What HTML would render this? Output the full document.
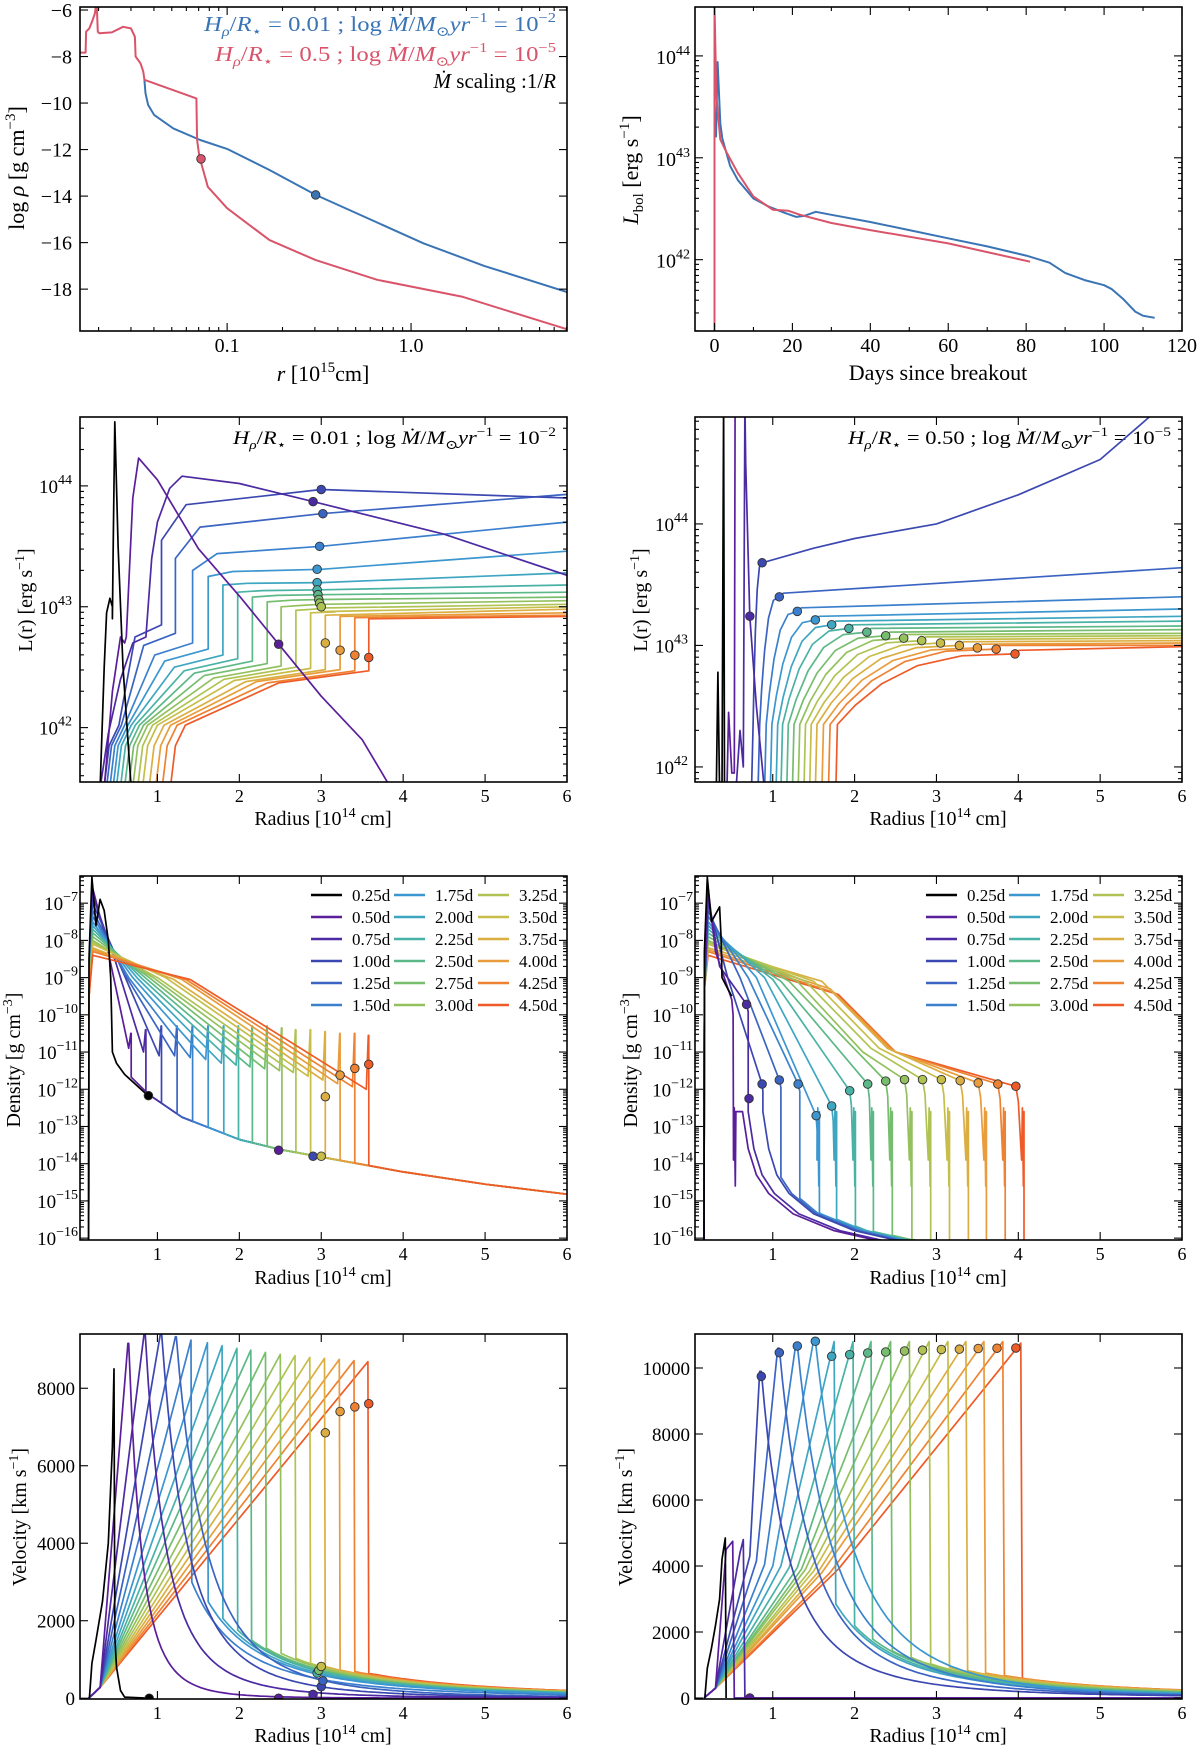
<!DOCTYPE html>
<html><head><meta charset="utf-8">
<style>
html,body{margin:0;padding:0;background:#fff}
svg{display:block}
text{font-family:"Liberation Serif","DejaVu Serif",serif}
</style></head>
<body>
<svg id="fig" width="1200" height="1749" viewBox="0 0 1200 1749" xmlns="http://www.w3.org/2000/svg">
<rect x="0" y="0" width="1200" height="1749" fill="#fff"/>
<text transform="translate(24,168) rotate(-90)" text-anchor="middle" font-size="22">log <tspan font-style="italic">ρ</tspan> [g cm<tspan dy="-9" font-size="15">−3</tspan><tspan dy="9">]</tspan></text>
<text x="323" y="381" text-anchor="middle" font-size="22"><tspan font-style="italic">r</tspan> [10<tspan dy="-9" font-size="15">15</tspan><tspan dy="9">cm]</tspan></text>
<text transform="translate(638,170) rotate(-90)" text-anchor="middle" font-size="22"><tspan font-style="italic">L</tspan><tspan dy="5" font-size="15">bol</tspan><tspan dy="-5"> [erg s</tspan><tspan dy="-9" font-size="15">−1</tspan><tspan dy="9">]</tspan></text>
<text x="938" y="380" text-anchor="middle" font-size="22">Days since breakout</text>
<text x="556" y="31" text-anchor="end" font-size="21" style="fill:#3a74b5" textLength="352" lengthAdjust="spacingAndGlyphs"><tspan font-style="italic">H</tspan><tspan font-style="italic" font-size="14" dy="5">ρ</tspan><tspan dy="-5">/</tspan><tspan font-style="italic">R</tspan><tspan font-size="14" dy="5">⋆</tspan><tspan dy="-5"> = 0.01 ; log </tspan><tspan font-style="italic">Ṁ</tspan><tspan>/</tspan><tspan font-style="italic">M</tspan><tspan font-size="14" dy="5">⊙</tspan><tspan font-style="italic" dy="-5">yr</tspan><tspan font-size="14" dy="-9">−1</tspan><tspan dy="9"> = 10</tspan><tspan font-size="14" dy="-9">−2</tspan></text>
<text x="556" y="61" text-anchor="end" font-size="21" style="fill:#d9546a" textLength="341" lengthAdjust="spacingAndGlyphs"><tspan font-style="italic">H</tspan><tspan font-style="italic" font-size="14" dy="5">ρ</tspan><tspan dy="-5">/</tspan><tspan font-style="italic">R</tspan><tspan font-size="14" dy="5">⋆</tspan><tspan dy="-5"> = 0.5 ; log </tspan><tspan font-style="italic">Ṁ</tspan><tspan>/</tspan><tspan font-style="italic">M</tspan><tspan font-size="14" dy="5">⊙</tspan><tspan font-style="italic" dy="-5">yr</tspan><tspan font-size="14" dy="-9">−1</tspan><tspan dy="9"> = 10</tspan><tspan font-size="14" dy="-9">−5</tspan></text>
<text x="556" y="88" text-anchor="end" font-size="21"><tspan font-style="italic">Ṁ</tspan> scaling :1/<tspan font-style="italic">R</tspan></text>
<text transform="translate(32,600) rotate(-90)" text-anchor="middle" font-size="20">L(r) [erg s<tspan dy="-8" font-size="14">−1</tspan><tspan dy="8">]</tspan></text>
<text transform="translate(647,600) rotate(-90)" text-anchor="middle" font-size="20">L(r) [erg s<tspan dy="-8" font-size="14">−1</tspan><tspan dy="8">]</tspan></text>
<text x="323" y="825" text-anchor="middle" font-size="20">Radius [10<tspan dy="-8" font-size="14">14</tspan><tspan dy="8"> cm]</tspan></text>
<text x="938" y="825" text-anchor="middle" font-size="20">Radius [10<tspan dy="-8" font-size="14">14</tspan><tspan dy="8"> cm]</tspan></text>
<text x="556" y="444" text-anchor="end" font-size="19" textLength="323" lengthAdjust="spacingAndGlyphs"><tspan font-style="italic">H</tspan><tspan font-style="italic" font-size="13" dy="5">ρ</tspan><tspan dy="-5">/</tspan><tspan font-style="italic">R</tspan><tspan font-size="13" dy="5">⋆</tspan><tspan dy="-5"> = 0.01 ; log </tspan><tspan font-style="italic">Ṁ</tspan><tspan>/</tspan><tspan font-style="italic">M</tspan><tspan font-size="13" dy="5">⊙</tspan><tspan font-style="italic" dy="-5">yr</tspan><tspan font-size="13" dy="-8">−1</tspan><tspan dy="8"> = 10</tspan><tspan font-size="13" dy="-8">−2</tspan></text>
<text x="1171" y="444" text-anchor="end" font-size="19" textLength="323" lengthAdjust="spacingAndGlyphs"><tspan font-style="italic">H</tspan><tspan font-style="italic" font-size="13" dy="5">ρ</tspan><tspan dy="-5">/</tspan><tspan font-style="italic">R</tspan><tspan font-size="13" dy="5">⋆</tspan><tspan dy="-5"> = 0.50 ; log </tspan><tspan font-style="italic">Ṁ</tspan><tspan>/</tspan><tspan font-style="italic">M</tspan><tspan font-size="13" dy="5">⊙</tspan><tspan font-style="italic" dy="-5">yr</tspan><tspan font-size="13" dy="-8">−1</tspan><tspan dy="8"> = 10</tspan><tspan font-size="13" dy="-8">−5</tspan></text>
<text transform="translate(20,1060) rotate(-90)" text-anchor="middle" font-size="20">Density [g cm<tspan dy="-8" font-size="14">−3</tspan><tspan dy="8">]</tspan></text>
<text transform="translate(637,1060) rotate(-90)" text-anchor="middle" font-size="20">Density [g cm<tspan dy="-8" font-size="14">−3</tspan><tspan dy="8">]</tspan></text>
<text x="323" y="1284" text-anchor="middle" font-size="20">Radius [10<tspan dy="-8" font-size="14">14</tspan><tspan dy="8"> cm]</tspan></text>
<text x="938" y="1284" text-anchor="middle" font-size="20">Radius [10<tspan dy="-8" font-size="14">14</tspan><tspan dy="8"> cm]</tspan></text>
<text transform="translate(26,1517) rotate(-90)" text-anchor="middle" font-size="20">Velocity [km s<tspan dy="-8" font-size="14">−1</tspan><tspan dy="8">]</tspan></text>
<text transform="translate(632,1517) rotate(-90)" text-anchor="middle" font-size="20">Velocity [km s<tspan dy="-8" font-size="14">−1</tspan><tspan dy="8">]</tspan></text>
<text x="323" y="1742" text-anchor="middle" font-size="20">Radius [10<tspan dy="-8" font-size="14">14</tspan><tspan dy="8"> cm]</tspan></text>
<text x="938" y="1742" text-anchor="middle" font-size="20">Radius [10<tspan dy="-8" font-size="14">14</tspan><tspan dy="8"> cm]</tspan></text>
</svg>
<script>
// ===== DATA =====
const times=['0.25d','0.50d','0.75d','1.00d','1.25d','1.50d','1.75d','2.00d','2.25d','2.50d','2.75d','3.00d','3.25d','3.50d','3.75d','4.00d','4.25d','4.50d'];
const colors=['#000000','#5a1e9b','#4b2aa2','#3c48b1','#3b64c2','#3b80cd','#3c96d0','#3fa6c2','#49b2a6','#5cb888','#76bd6e','#94c15e','#afc353','#c7bd49','#dbae41','#e89c3b','#ee8232','#ee5b28'];

const rhoRed_r=[0.0158,0.0170,0.0171,0.0178,0.0185,0.0191,0.0195,0.0198,0.0202,0.0236,0.0272,0.0300,0.0315,0.0318,0.0338,0.0350,0.0355,0.0681,0.0687,0.0707,0.0785,0.1,0.17,0.303,0.655,1.888,7.21];
const rhoRed_v=[-7.83,-7.83,-6.93,-6.79,-6.46,-6.14,-5.6,-6.93,-7.0,-6.96,-6.72,-6.79,-7.15,-8.0,-8.29,-8.65,-9.0,-9.8,-11.59,-12.3,-13.6,-14.52,-15.89,-16.75,-17.6,-18.32,-19.75];
const rhoBlue_r=[0.0355,0.036,0.0372,0.0401,0.051,0.0714,0.1,0.17,0.303,0.6,1.167,2.5,7.21];
const rhoBlue_v=[-9.0,-9.58,-10.08,-10.51,-11.09,-11.59,-11.97,-12.88,-13.95,-15.0,-16.03,-17.0,-18.15];
const bolB_t=[0.4,0.8,1.5,2,4,6,10,14,18,21,23,26,30,40,50,60,70,80,86,90,95,100,102,105,108,110,113];
const bolB_L=[43.2,43.94,43.34,43.19,42.92,42.78,42.6,42.52,42.46,42.42,42.43,42.47,42.44,42.37,42.29,42.21,42.13,42.04,41.97,41.87,41.8,41.75,41.71,41.61,41.49,41.45,41.43];
const bolR_t=[0,0,0.5,1.5,3,6,10,15,19,22,30,40,60,81];
const bolR_L=[41.3,44.5,43.6,43.18,43.06,42.85,42.62,42.49,42.48,42.44,42.36,42.29,42.16,41.98];

const lumL_black_r=[0.3,0.35,0.38,0.42,0.45,0.45,0.46,0.48,0.52,0.58,0.65,0.68];
const lumL_black_L=[41.5,42.5,42.95,43.07,43.0,42.9,43.5,44.53,43.5,42.5,41.8,41.5];
const lumL_05_r=[0.35,0.45,0.55,0.6,0.62,0.7,0.77,1.0,1.5,2.0,2.48,3.0,3.5,3.85];
const lumL_05_L=[41.5,42.3,42.75,42.7,42.75,43.9,44.23,44.05,43.48,43.09,42.69,42.26,41.9,41.5];
const lumL_075_r=[0.3,0.4,0.55,0.7,0.86,0.93,1.0,1.15,1.3,2.0,2.9,4.5,6.0];
const lumL_075_L=[41.5,41.95,42.4,42.7,42.75,43.4,43.7,43.98,44.08,44.02,43.87,43.6,43.26];
const lumL_start=[0.33,0.36,0.4,0.44,0.48,0.53,0.58,0.63,0.68,0.74,0.8,0.88,0.96,1.04,1.14];
const lumL_step=[1.05,1.22,1.43,1.62,1.80,1.98,2.16,2.34,2.51,2.69,2.87,3.05,3.23,3.41,3.58];
const lumL_pre=[42.85,42.78,42.7,42.65,42.6,42.57,42.55,42.53,42.51,42.5,42.49,42.48,42.48,42.47,42.47];
const lumL_top=[43.55,43.4,43.3,43.25,43.18,43.12,43.08,43.04,43.0,42.97,42.95,42.93,42.92,42.91,42.9];
const lumL_mid=[43.97,43.77,43.5,43.31,43.2,43.14,43.1,43.06,43.02,42.99,42.96,42.94,42.92,42.91,42.9];
const lumL_end=[43.9,43.93,43.7,43.46,43.28,43.18,43.12,43.08,43.05,43.02,43.0,42.98,42.95,42.93,42.92];
const lumL_dotR=[2.48,2.9,3.0,3.02,2.98,2.95,2.95,2.95,2.96,2.97,2.98,3.0,3.05,3.23,3.41,3.58];
const lumL_dotL=[42.69,43.87,43.97,43.77,43.5,43.31,43.2,43.14,43.1,43.06,43.03,43.0,42.7,42.64,42.6,42.58];
const lumL_dotC=[1,2,3,4,5,6,7,8,9,10,11,12,14,15,16,17];

const lumR_black_r=[0.31,0.33,0.35,0.38,0.40,0.41];
const lumR_black_L=[41.8,42.78,41.8,41.8,45.0,41.8];
const lumR_05_r=[0.44,0.46,0.5,0.53,0.54,0.55];
const lumR_05_L=[41.8,42.45,41.95,41.95,45.0,45.0];
const lumR_075_r=[0.55,0.6,0.64,0.66,0.67,0.72,0.8,0.9];
const lumR_075_L=[41.8,42.3,42.0,45.0,44.5,43.24,42.5,41.8];
const lumR_start=[0.74,0.82,0.9,0.97,1.04,1.1,1.17,1.24,1.31,1.38,1.45,1.52,1.6,1.68,1.77];
const lumR_dotR=[0.87,1.08,1.3,1.52,1.72,1.93,2.15,2.38,2.6,2.82,3.05,3.28,3.5,3.73,3.96];
const lumR_dotL=[43.68,43.4,43.28,43.21,43.17,43.14,43.11,43.08,43.06,43.04,43.02,43.0,42.98,42.97,42.93];
const lumR_end=[44.0,43.64,43.4,43.3,43.24,43.2,43.16,43.13,43.1,43.08,43.06,43.04,43.02,43.0,42.99];
const lumR_1d_r=[1.5,2.0,3.0,4.0,5.0,5.6,6.0];
const lumR_1d_L=[43.8,43.88,44.0,44.24,44.53,44.88,45.0];

const dL_black_r=[0.16,0.165,0.2,0.25,0.3,0.35,0.4,0.43,0.45,0.5,0.6,0.9];
const dL_black_v=[-16.1,-8.5,-6.3,-7.6,-6.9,-7.2,-8.0,-9.0,-11.0,-11.3,-11.6,-12.2];
const dL_R=[0.68,0.86,1.05,1.24,1.43,1.62,1.81,1.99,2.16,2.34,2.52,2.69,2.87,3.05,3.23,3.41,3.58];
const dL_top=[-6.6,-6.8,-7.0,-7.2,-7.35,-7.5,-7.6,-7.7,-7.8,-7.9,-8.0,-8.05,-8.1,-8.2,-8.25,-8.3,-8.4];
const dL_midR=[0.35,0.45,0.55,0.6,0.65,0.7,0.75,0.8,0.85,0.9,0.95,1.0,1.1,1.2,1.3,1.35,1.4];
const dL_midD=[-7.8,-8.3,-8.7,-8.9,-9.0,-9.0,-9.0,-9.0,-9.0,-9.0,-9.0,-9.0,-9.0,-9.05,-9.05,-9.05,-9.05];
const dL_trough=[-10.9,-11.0,-11.1,-11.1,-11.15,-11.2,-11.3,-11.35,-11.4,-11.45,-11.5,-11.55,-11.65,-11.75,-11.85,-11.93,-12.0];
const dL_spike=[-10.5,-10.4,-10.3,-10.3,-10.3,-10.3,-10.3,-10.3,-10.3,-10.3,-10.35,-10.4,-10.4,-10.45,-10.5,-10.5,-10.55];
const csm_r=[0.45,0.6,0.9,1.3,2.0,2.5,3.0,4.0,5.0,6.0];
const csm_v=[-11.0,-11.5,-12.15,-12.75,-13.35,-13.62,-13.82,-14.22,-14.55,-14.82];
const dL_dotR=[0.89,2.48,2.9,3.0,3.05,3.23,3.41,3.58];
const dL_dotV=[-12.17,-13.64,-13.8,-13.8,-12.2,-11.62,-11.44,-11.33];
const dL_dotC=[0,1,3,13,14,15,16,17];

const dR_black_r=[0.16,0.165,0.2,0.25,0.3,0.35,0.37,0.38,0.45,0.5];
const dR_black_v=[-16.1,-8.3,-6.3,-7.5,-7.3,-7.1,-8.0,-9.0,-9.3,-9.5];
const dR_R=[0.55,0.70,0.88,1.10,1.33,1.57,1.78,2.01,2.23,2.46,2.70,2.93,3.16,3.39,3.61,3.84,4.07];
const dR_kneeR=[0.3,0.35,0.45,0.6,0.7,0.8,0.9,1.0,1.1,1.2,1.3,1.4,1.5,1.6,1.7,1.75,1.8];
const dR_kneeD=[-8.3,-8.7,-9.0,-9.0,-9.0,-9.0,-9.0,-9.05,-9.1,-9.1,-9.1,-9.1,-9.1,-9.1,-9.3,-9.4,-9.45];
const dR_m2R=[0,0,0,0,0,0,0,0,0,0,2.1,2.2,2.3,2.4,2.45,2.5,2.5];
const dR_m2D=[0,0,0,0,0,0,0,0,0,0,-11.0,-10.9,-10.9,-10.9,-10.95,-11.0,-11.0];
const dR_passR=[0.5,0.68,0.87,1.08,1.31,1.53,1.72,1.94,2.16,2.38,2.61,2.83,3.06,3.29,3.51,3.75,3.97];
const dR_passD=[-9.6,-9.72,-11.86,-11.75,-11.86,-12.71,-12.45,-12.04,-11.86,-11.78,-11.74,-11.74,-11.74,-11.77,-11.83,-11.86,-11.92];
const dR_tailShift=[-0.25,-0.18,0,0.03,0.06,0.09,0.12,0.15,0.18,0.21,0.24,0.27,0.3,0.33,0.36,0.39,0.42];
const tail_r=[0.88,0.95,1.05,1.2,1.5,2.0,2.6,3.0];
const tail_v=[-12.6,-13.6,-14.3,-14.8,-15.35,-15.8,-16.1,-16.3];
const dR_dotR=[0.68,0.71,0.87,1.08,1.31,1.53,1.72,1.94,2.16,2.38,2.61,2.83,3.06,3.29,3.51,3.75,3.97];
const dR_dotV=[-9.72,-12.25,-11.86,-11.75,-11.86,-12.71,-12.45,-12.04,-11.86,-11.78,-11.74,-11.74,-11.74,-11.77,-11.83,-11.86,-11.92];
const dR_dotC=[2,2,3,4,5,6,7,8,9,10,11,12,13,14,15,16,17];

const vL_black_r=[0.17,0.2,0.25,0.33,0.4,0.45,0.47,0.48,0.5,0.55,0.6,0.9];
const vL_black_v=[0,900,1500,2500,4000,6500,8500,1600,800,200,30,0];
const vL_R=[0.65,0.85,1.05,1.23,1.42,1.62,1.80,1.98,2.15,2.33,2.51,2.69,2.87,3.05,3.23,3.41,3.58];
const vL_peak=[9157,9450,9450,9330,9243,9175,9097,9028,8985,8925,8873,8839,8796,8770,8745,8710,8684];
const vL_drop=[9157,9450,9450,9330,3000,2490,2060,1760,1500,1290,1160,1030,900,820,730,690,645];
const vL_end=[1,13,30,46,90,120,130,140,150,155,160,170,175,180,185,190,200];
const vL_dotR=[0.9,2.48,2.9,3.0,3.02,2.95,2.97,3.0,3.05,3.23,3.41,3.58];
const vL_dotV=[0,0,100,300,450,650,720,820,6850,7400,7520,7600];
const vL_dotC=[0,1,2,3,4,8,10,13,14,15,16,17];

const vR_black_r=[0.17,0.2,0.25,0.3,0.35,0.38,0.42,0.43];
const vR_black_v=[0,900,1500,2200,3000,4200,4850,0];
const vR_R=[0.53,0.66,0.86,1.08,1.30,1.52,1.77,2.00,2.22,2.46,2.69,2.93,3.16,3.38,3.60,3.83,4.05];
const vR_kR=[0.43,0.6,0.72,0.8,0.9,1.0,1.1,1.2,1.3,1.35,1.4,1.45,1.5,1.55,1.6,1.7,1.8];
const vR_kV=[4500,4400,4300,4150,4050,4000,4000,3950,3950,3900,3900,3850,3850,3800,3800,3800,3900];
const vR_peak=[4750,4800,9900,10600,10700,10850,10800,10800,10800,10800,10800,10800,10800,10800,10800,10800,10750];
const vR_drop=[0,0,9900,10600,10700,10850,2850,2190,1790,1430,1230,1030,930,830,760,680,580];
const vR_end=[0,0,70,90,105,120,140,155,170,185,195,205,215,225,235,240,245];
const vR_dotR=[0.72,0.86,1.08,1.30,1.52,1.72,1.94,2.16,2.38,2.61,2.83,3.06,3.28,3.51,3.74,3.97];
const vR_dotV=[0,9747,10465,10667,10809,10354,10404,10455,10485,10515,10540,10560,10570,10590,10600,10607];
const vR_dotC=[1,3,4,5,6,7,8,9,10,11,12,13,14,15,16,17];

// ===== DRAWING =====
const NS='http://www.w3.org/2000/svg';
const fig=document.getElementById('fig');
function mk(tag,attrs,parent){const e=document.createElementNS(NS,tag);for(const k in attrs)e.setAttribute(k,attrs[k]);parent.appendChild(e);return e;}
let clipN=0;
function panel(name,x0,x1,y0,y1,xmin,xmax,ymin,ymax,xlog){
  const g=mk('g',{},fig);
  
  
  const id='clip'+(clipN++);
  const cp=mk('clipPath',{id:id},g);
  mk('rect',{x:x0,y:y0,width:x1-x0,height:y1-y0},cp);
  const plot=mk('g',{'clip-path':'url(#'+id+')'},g);
  
  
  const X=v=>x0+((xlog?Math.log10(v):v)-xmin)/(xmax-xmin)*(x1-x0);
  const Y=v=>y1-(v-ymin)/(ymax-ymin)*(y1-y0);
  return {g,plot,X,Y,x0,x1,y0,y1,name};
}
function frame(P){
  const r=mk('rect',{x:P.x0,y:P.y0,width:P.x1-P.x0,height:P.y1-P.y0,fill:'none',stroke:'#000','stroke-width':1.6},P.g);
  
  
}
function xt(P,v,len){const x=P.X(v);if(x<P.x0-0.5||x>P.x1+0.5)return;
  mk('line',{x1:x,x2:x,y1:P.y1,y2:P.y1-len,stroke:'#000','stroke-width':1.1},P.g);
  mk('line',{x1:x,x2:x,y1:P.y0,y2:P.y0+len,stroke:'#000','stroke-width':1.1},P.g);}
function yt(P,v,len){const y=P.Y(v);if(y<P.y0-0.5||y>P.y1+0.5)return;
  mk('line',{x1:P.x0,x2:P.x0+len,y1:y,y2:y,stroke:'#000','stroke-width':1.1},P.g);
  mk('line',{x1:P.x1,x2:P.x1-len,y1:y,y2:y,stroke:'#000','stroke-width':1.1},P.g);}
function tlabel(P,x,y,str,size,anchor,name){
  const t=mk('text',{x:x,y:y,'font-size':size,'text-anchor':anchor},P.g);
  t.textContent=str;
  
  
  return t;
}
function plabel(P,x,y,exp,size,anchor,name){
  const t=mk('text',{x:x,y:y,'font-size':size,'text-anchor':anchor},P.g);
  
  
  const a=mk('tspan',{},t);a.textContent='10';
  const b=mk('tspan',{dy:-9,'font-size':Math.round(size*0.72)},t);b.textContent=String(exp).replace('-','−');
  return t;
}
function curve(P,pts,color,w,name){
  const d='M'+pts.map(p=>P.X(p[0]).toFixed(1)+','+P.Y(p[1]).toFixed(1)).join('L');
  const p=mk('path',{d:d,fill:'none',stroke:color,'stroke-width':w||1.7,'stroke-linejoin':'round'},P.plot);
  
  
  return p;
}
function dot(P,x,y,color,name){
  const c=mk('circle',{cx:P.X(x),cy:P.Y(y),r:4.3,fill:color,stroke:'#333','stroke-width':0.9},P.plot);
  
  
}
function zip(a,b){return a.map((v,i)=>[v,b[i]]);}
function interp(xs,ys,x){if(x<=xs[0])return ys[0];for(let i=1;i<xs.length;i++){if(x<=xs[i]){const f=(x-xs[i-1])/(xs[i]-xs[i-1]);return ys[i-1]+f*(ys[i]-ys[i-1]);}}return ys[ys.length-1];}
function powTail(r0,v0,v1){const pts=[];if(v0<=0||v1<=0){pts.push([r0,v0],[6,v1]);return pts;}
  const p=Math.log(v0/v1)/Math.log(6/r0);for(let r=r0;r<6;r+=0.04)pts.push([r,v0*Math.pow(r0/r,p)]);pts.push([6,v1]);return pts;}
function logMinorY(P,lo,hi){for(let n=lo;n<hi;n++){for(let k=2;k<=9;k++)yt(P,n+Math.log10(k),4);}}

const P1=panel('density-profile-panel',80,567,7,331,-1.8,0.848,-19.8,-5.87,true);
curve(P1,zip(rhoBlue_r,rhoBlue_v),'#3a74b5',2,'blue-density-profile');
curve(P1,zip(rhoRed_r,rhoRed_v),'#d9546a',2,'red-density-profile');
dot(P1,0.0721,-12.4,'#d9546a','red-photosphere-marker');
dot(P1,0.303,-13.95,'#3a74b5','blue-photosphere-marker');
[-6,-8,-10,-12,-14,-16,-18].forEach(v=>{yt(P1,v,8);tlabel(P1,72,P1.Y(v)+7,String(v).replace('-','−'),20,'end','y-tick-label');});
[0.1,1].forEach(v=>xt(P1,v,8));
[0.01,0.1,1].forEach(d=>{for(let k=2;k<=9;k++)xt(P1,d*k,4);});
tlabel(P1,P1.X(0.1),352,'0.1',20,'middle','x-tick-label');
tlabel(P1,P1.X(1),352,'1.0',20,'middle','x-tick-label');
frame(P1);

const P2=panel('bolometric-lightcurve-panel',695,1182,7,331,-5,120,41.30,44.48,false);
curve(P2,zip(bolB_t,bolB_L),'#3a74b5',2,'blue-light-curve');
curve(P2,zip(bolR_t,bolR_L),'#d9546a',2,'red-light-curve');
for(let v=0;v<=120;v+=20){xt(P2,v,8);tlabel(P2,P2.X(v),352,String(v),20,'middle','x-tick-label');}
for(let v=10;v<120;v+=20)xt(P2,v,4);
[42,43,44].forEach(n=>{yt(P2,n,8);plabel(P2,690,P2.Y(n)+8,n,20,'end','y-tick-label');});
logMinorY(P2,41,44);
frame(P2);

const P3=panel('luminosity-left-panel',80,567,417,782,0.055,6,41.55,44.57,false);
for(let i=lumL_start.length-1;i>=0;i--){
  const s=lumL_start[i],R=lumL_step[i],pre=lumL_pre[i],top=lumL_top[i],mid=lumL_mid[i],end=lumL_end[i];
  const pts=[[s,41.4],[s+0.08,41.85],[s+0.2,42.02],[s+0.55*(R-s),pre-0.1],[R,pre],[R,top]];
  if(R<3){pts.push([R+0.3,top+0.7*(mid-top)],[3,mid]);}
  pts.push([6,end]);
  curve(P3,pts,colors[i+3],1.7,'luminosity-curve-'+times[i+3]);
}
curve(P3,zip(lumL_075_r,lumL_075_L),colors[2],1.7,'luminosity-curve-0.75d');
curve(P3,zip(lumL_05_r,lumL_05_L),colors[1],1.7,'luminosity-curve-0.50d');
curve(P3,zip(lumL_black_r,lumL_black_L),colors[0],1.7,'luminosity-curve-0.25d');
lumL_dotR.forEach((r,i)=>dot(P3,r,lumL_dotL[i],colors[lumL_dotC[i]],'photosphere-marker'));
for(let v=1;v<=6;v++){xt(P3,v,8);tlabel(P3,P3.X(v),802,String(v),18,'middle','x-tick-label');}
[42,43,44].forEach(n=>{yt(P3,n,8);plabel(P3,72,P3.Y(n)+7,n,19,'end','y-tick-label');});
logMinorY(P3,41,45);
frame(P3);

const P4=panel('luminosity-right-panel',695,1182,417,782,0.05,6,41.876,44.88,false);
for(let i=lumR_start.length-1;i>=0;i--){
  const s=lumR_start[i],dr=lumR_dotR[i],dl=lumR_dotL[i];
  const pts=[[s,41.8],[s+0.02,42.35]];
  [0.1,0.25,0.45,0.7,1].forEach(k=>{pts.push([s+0.02+k*(dr-s-0.02),dl-(dl-42.35)*Math.pow(1-k,3)]);});
  if(i===0){lumR_1d_r.forEach((r,j)=>pts.push([r,lumR_1d_L[j]]));}
  else{pts.push([dr+0.05,dl+0.03],[6,lumR_end[i]]);}
  curve(P4,pts,colors[i+3],1.7,'luminosity-curve-'+times[i+3]);
}
curve(P4,zip(lumR_075_r,lumR_075_L),colors[2],1.7,'luminosity-curve-0.75d');
curve(P4,zip(lumR_05_r,lumR_05_L),colors[1],1.7,'luminosity-curve-0.50d');
curve(P4,zip(lumR_black_r,lumR_black_L),colors[0],1.7,'luminosity-curve-0.25d');
dot(P4,0.72,43.24,colors[2],'photosphere-marker');
lumR_dotR.forEach((r,i)=>dot(P4,r,lumR_dotL[i],colors[i+3],'photosphere-marker'));
for(let v=1;v<=6;v++){xt(P4,v,8);tlabel(P4,P4.X(v),802,String(v),18,'middle','x-tick-label');}
[42,43,44].forEach(n=>{yt(P4,n,8);plabel(P4,688,P4.Y(n)+7,n,19,'end','y-tick-label');});
logMinorY(P4,41,45);
frame(P4);

function legend(P){
  const lg=mk('g',{},P.g);
  
  
  times.forEach((t,k)=>{
    const col=Math.floor(k/6),row=k%6;
    const lx=P.x0+[231,314,398][col],y=P.y0+19+22*row;
    const e=mk('g',{},lg);
    
    
    mk('line',{x1:lx,x2:lx+31,y1:y,y2:y,stroke:colors[k],'stroke-width':2.6},e);
    const tx=mk('text',{x:lx+41,y:y+6,'font-size':17},e);tx.textContent=t;
  });
}

const P5=panel('density-left-panel',80,567,876,1240,0.055,6,-16.05,-6.27,false);
for(let i=0;i<dL_R.length;i++){
  const R=dL_R[i];
  const pts=[[0.16,-16.2],[0.165,-9.5],[0.21,dL_top[i]],[dL_midR[i],dL_midD[i]],[R-0.03,dL_trough[i]],[R-0.005,dL_spike[i]],[R,dL_spike[i]],[R,interp(csm_r,csm_v,R)]];
  csm_r.forEach((r,j)=>{if(r>R)pts.push([r,csm_v[j]]);});
  curve(P5,pts,colors[i+1],1.7,'density-curve-'+times[i+1]);
}
curve(P5,zip(dL_black_r,dL_black_v),colors[0],1.7,'density-curve-0.25d');
dL_dotR.forEach((r,i)=>dot(P5,r,dL_dotV[i],colors[dL_dotC[i]],'photosphere-marker'));
legend(P5);
for(let v=1;v<=6;v++){xt(P5,v,8);tlabel(P5,P5.X(v),1260,String(v),18,'middle','x-tick-label');}
for(let n=-16;n<=-7;n++){yt(P5,n,8);plabel(P5,78,P5.Y(n)+7,n,19,'end','y-tick-label');}
logMinorY(P5,-17,-6);
frame(P5);

const P6=panel('density-right-panel',695,1182,876,1240,0.05,6,-16.05,-6.27,false);
for(let i=dR_R.length-1;i>=0;i--){
  const R=dR_R[i],pr=dR_passR[i],pd=dR_passD[i],sh=dR_tailShift[i];
  const pts=[[0.16,-16.2],[0.165,-9.3],[0.21,dL_top[i]],[dR_kneeR[i],dR_kneeD[i]]];
  if(dR_m2R[i]>0)pts.push([dR_m2R[i],dR_m2D[i]]);
  pts.push([pr,pd]);
  const gap=R-pr;
  if(gap>=0.04){pts.push([pr+0.3*gap,pd-0.4],[R-0.03,-13.9],[R-0.02,-12.5],[R-0.008,-14.6],[R,-12.6]);}
  else{pts.push([R,pd-0.2]);}
  pts.push([R,interp(tail_r,tail_v,R-sh)]);
  tail_r.forEach((r,j)=>{if(r+sh>R)pts.push([r+sh,tail_v[j]]);});
  curve(P6,pts,colors[i+1],1.7,'density-curve-'+times[i+1]);
}
curve(P6,zip(dR_black_r,dR_black_v),colors[0],1.7,'density-curve-0.25d');
dR_dotR.forEach((r,i)=>dot(P6,r,dR_dotV[i],colors[dR_dotC[i]],'photosphere-marker'));
legend(P6);
for(let v=1;v<=6;v++){xt(P6,v,8);tlabel(P6,P6.X(v),1260,String(v),18,'middle','x-tick-label');}
for(let n=-16;n<=-7;n++){yt(P6,n,8);plabel(P6,693,P6.Y(n)+7,n,19,'end','y-tick-label');}
logMinorY(P6,-17,-6);
frame(P6);

const P7=panel('velocity-left-panel',80,567,1334,1699,0.055,6,-20,9400,false);
for(let i=vL_R.length-1;i>=0;i--){
  const R=vL_R[i];
  const pts=[[0.16,0],[0.3,280],[R-0.01,vL_peak[i]],[R,vL_drop[i]]].concat(powTail(R,vL_drop[i],vL_end[i]));
  curve(P7,pts,colors[i+1],1.7,'velocity-curve-'+times[i+1]);
}
curve(P7,zip(vL_black_r,vL_black_v),colors[0],1.7,'velocity-curve-0.25d');
vL_dotR.forEach((r,i)=>dot(P7,r,vL_dotV[i],colors[vL_dotC[i]],'photosphere-marker'));
for(let v=1;v<=6;v++){xt(P7,v,8);tlabel(P7,P7.X(v),1719,String(v),18,'middle','x-tick-label');}
for(let v=0;v<=8000;v+=2000){yt(P7,v,8);tlabel(P7,75,P7.Y(v)+7,String(v),19,'end','y-tick-label');}
frame(P7);

const P8=panel('velocity-right-panel',695,1182,1334,1699,0.05,6,-30,11030,false);
for(let i=vR_R.length-1;i>=0;i--){
  const R=vR_R[i];
  const pts=[[0.16,0],[0.3,300],[vR_kR[i],vR_kV[i]],[R-0.02,vR_peak[i]],[R,vR_drop[i]]].concat(powTail(R,vR_drop[i],vR_end[i]));
  curve(P8,pts,colors[i+1],1.7,'velocity-curve-'+times[i+1]);
}
curve(P8,zip(vR_black_r,vR_black_v),colors[0],1.7,'velocity-curve-0.25d');
vR_dotR.forEach((r,i)=>dot(P8,r,vR_dotV[i],colors[vR_dotC[i]],'photosphere-marker'));
for(let v=1;v<=6;v++){xt(P8,v,8);tlabel(P8,P8.X(v),1719,String(v),18,'middle','x-tick-label');}
for(let v=0;v<=10000;v+=2000){yt(P8,v,8);tlabel(P8,690,P8.Y(v)+7,String(v),19,'end','y-tick-label');}
frame(P8);
</script>
</body></html>
